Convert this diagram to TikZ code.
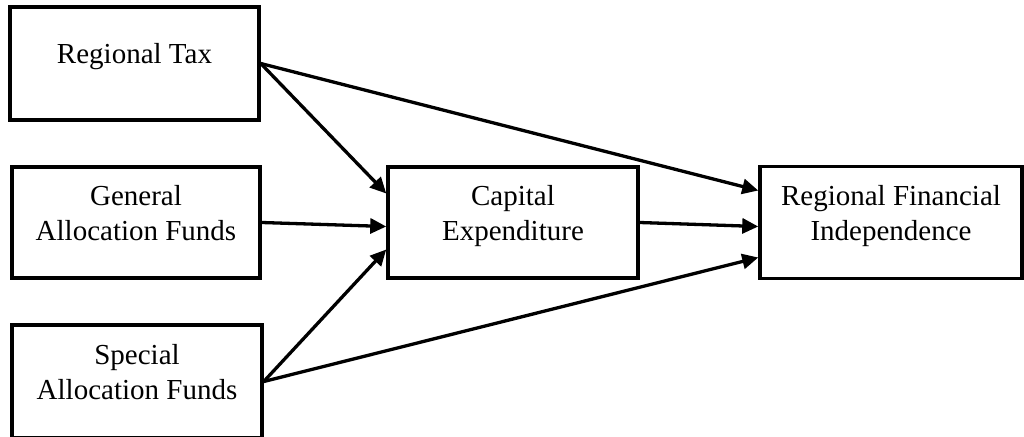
\documentclass[tikz,border=0pt]{standalone}
\usepackage{fontspec}
\setmainfont{Liberation Serif}
\usetikzlibrary{arrows.meta}

\tikzset{
  box/.style={draw, line width=3.5pt, inner sep=0pt, align=center,
    text depth=20pt, font=\fontsize{29}{35}\selectfont},
  arrow/.style={line width=3.3pt, -{Triangle[length=16pt,width=15pt]}}
}

\begin{document}
\begin{tikzpicture}[x=1pt, y=-1pt]
  \useasboundingbox (0,0) rectangle (1024,436);

  % Einflussgroessen links
  \node[box, minimum width=249pt, minimum height=113pt] (tax) at (134.5,63.5) {Regional Tax};
  \node[box, minimum width=248pt, minimum height=111pt] (gaf) at (136,222.5) {General\\Allocation Funds};
  \node[box, minimum width=250pt, minimum height=113pt] (saf) at (137,381.5) {Special\\Allocation Funds};

  % Mitte und rechts
  \node[box, minimum width=250pt, minimum height=111pt] (capex) at (513,222.5) {Capital\\Expenditure};
  \node[box, minimum width=262pt, minimum height=112pt] (rfi) at (891,222.5) {Regional Financial\\Independence};

  % Pfeile
  \draw[arrow] (tax.east) -- ([yshift=29pt]capex.west);
  \draw[arrow] (tax.east) -- ([yshift=32pt]rfi.west);
  \draw[arrow] (gaf.east) -- ([yshift=-4pt]capex.west);
  \draw[arrow] (saf.east) -- ([yshift=-27pt]capex.west);
  \draw[arrow] (saf.east) -- ([yshift=-35pt]rfi.west);
  \draw[arrow] (capex.east) -- ([yshift=-4pt]rfi.west);
\end{tikzpicture}
\end{document}
